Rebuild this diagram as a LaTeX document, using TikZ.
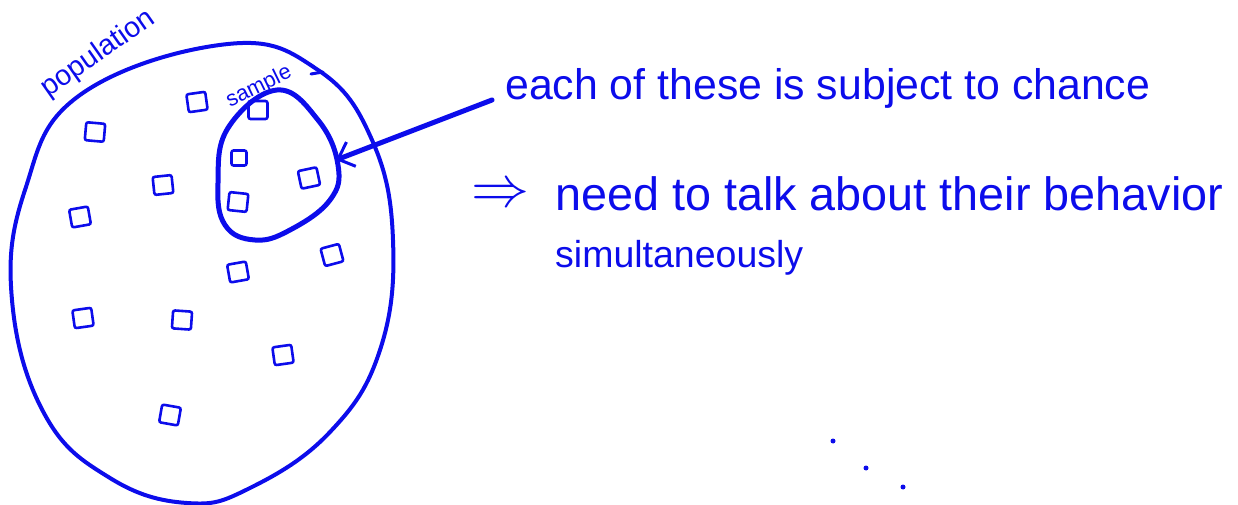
\documentclass[tikz,border=0pt]{standalone}
\usepackage{fontspec}
\usepackage{graphicx}
\setmainfont{Liberation Sans}
\usetikzlibrary{arrows.meta}
\definecolor{ink}{RGB}{12,12,235}
\begin{document}
\begin{tikzpicture}[x=1pt,y=-1pt,
  inkline/.style={draw=ink,line cap=round,line join=round},
  item/.style={draw=ink,line width=2.6pt,rounded corners=2pt,minimum width=19pt,minimum height=18pt,inner sep=0pt},
  hand/.style={text=ink,inner sep=0pt,anchor=west},
  dotmark/.style={circle,fill=ink,inner sep=0pt,minimum size=5pt}]
\useasboundingbox (0,0) rectangle (1238,505);
% population
\draw[inkline,line width=4pt] plot[smooth cycle,tension=0.7] coordinates {
 (228,44) (318,70) (372,140) (393,240) (380,350) (330,432)
 (250,488) (187,503) (110,478) (45,415) (12,300)
 (25,190) (80,95)};
\draw[inkline,line width=3pt] (311,74) -- (323,72);
% sample loop
\draw[inkline,line width=5pt] plot[smooth cycle,tension=0.7] coordinates {
 (277,90) (318,120) (338,165) (330,200) (290,230)
 (255,240) (225,225) (218,183) (228,128)};
% items
\node[item,rotate=8]  (i1) at (197,102) {};
\node[item,rotate=-5] (i2) at (95,132) {};
\node[item,rotate=6]  (i3) at (163,185) {};
\node[item,rotate=10] (i4) at (80,217) {};
\node[item,rotate=0]  (s1) at (258,110) {};
\node[item,rotate=0,minimum width=15pt,minimum height=15pt] (s2) at (239,158) {};
\node[item,rotate=-6] (s3) at (238,202) {};
\node[item,rotate=12] (s4) at (309,178) {};
\node[item,rotate=15] (i5) at (332,255) {};
\node[item,rotate=10] (i6) at (238,272) {};
\node[item,rotate=8]  (i7) at (83,318) {};
\node[item,rotate=-4] (i8) at (182,320) {};
\node[item,rotate=8]  (i9) at (283,355) {};
\node[item,rotate=-10](i10) at (170,415) {};
% labels
\node[text=ink,inner sep=0pt,rotate=35] (pop) at (98,54) {\resizebox{132pt}{!}{population}};
\node[text=ink,inner sep=0pt,rotate=26] (samp) at (259,87) {\resizebox{70pt}{!}{sample}};
\node[hand] (t1) at (505,88) {\resizebox{645pt}{!}{each of these is subject to chance}};
\node[text=ink,inner sep=0pt] (impl) at (500,196) {\resizebox{58pt}{!}{$\Rightarrow$}};
\node[hand] (t2) at (555,194) {\resizebox{668pt}{!}{need to talk about their behavior}};
\node[hand] (t3) at (555,258) {\resizebox{248pt}{!}{simultaneously}};
% arrow
\coordinate (astart) at (492,100);
\coordinate (atip) at (336,160);
\draw[inkline,line width=5pt,-{Straight Barb[length=14pt,width=26pt,line width=3pt]}] (astart) -- (atip);
% dots
\node[dotmark] (d1) at (833,441) {};
\node[dotmark] (d2) at (866,468) {};
\node[dotmark] (d3) at (903,487) {};
\end{tikzpicture}
\end{document}
